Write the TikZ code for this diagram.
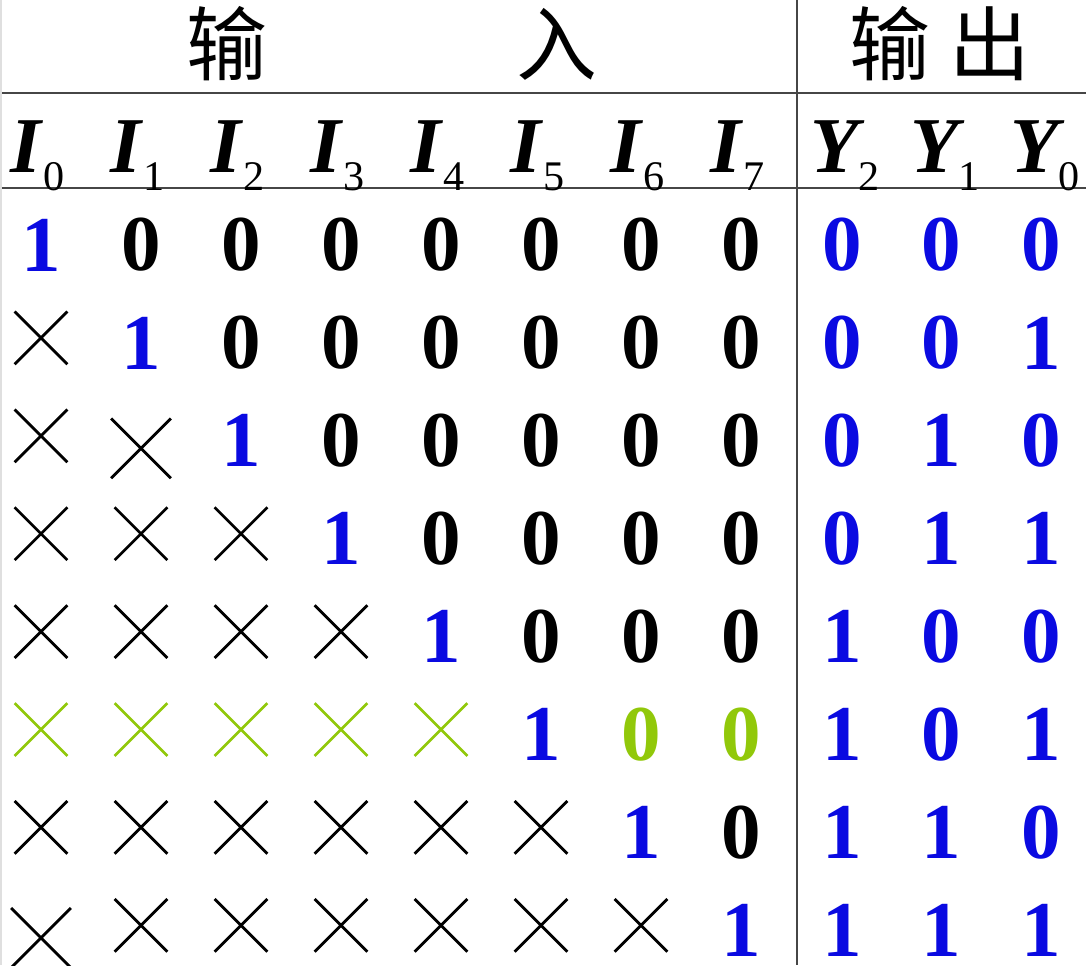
\documentclass[tikz,border=0pt]{standalone}
\usepackage{fontspec}
\setmainfont{Liberation Serif}
\newfontfamily\cjk{Noto Sans CJK SC}
\usetikzlibrary{shapes.misc}

\definecolor{tblue}{RGB}{10,10,225}
\definecolor{tgreen}{RGB}{145,200,10}
\definecolor{rulegray}{RGB}{70,70,70}

\newcommand\hdrsym[3][0cm]{\textbf{\textit{#2}}\hspace{#1}\raisebox{-0.36cm}{\fontsize{24}{26}\selectfont #3}}

\begin{document}
\begin{tikzpicture}[x=0.02cm, y=-0.02cm,
    rule/.style={draw=rulegray, line width=0.05cm},
    hdr/.style={inner sep=0pt, font=\cjk\fontsize{46}{48}\selectfont},
    sym/.style={anchor=base west, inner sep=0pt, font=\fontsize{45}{48}\selectfont},
    digit/.style={inner sep=0pt, font=\fontsize{45}{48}\selectfont\bfseries},
    xmark/.style={cross out, draw, line width=0.055cm, minimum size=1cm, inner sep=0pt, yshift=0.1cm},
    cell0/.style={digit, node contents={0}},
    cell1/.style={digit, text=tblue, node contents={1}},
    cellG/.style={digit, text=tgreen, node contents={0}},
    cellX/.style={xmark, node contents={}},
    cellZ/.style={xmark, draw=tgreen, node contents={}},
    cellB/.style={xmark, minimum size=1.14cm, yshift=-0.25cm, node contents={}}]

        \useasboundingbox (0,0) rectangle (1086,965);

        % table rules
        \draw[rule] (0,93) -- (1086,93);
        \draw[rule] (0,188) -- (1086,188);
        \draw[rule, line width=0.045cm] (797,0) -- (797,965);
        \draw[gray!25, line width=0.03cm] (1,0) -- (1,965);

        % group headers
        \node[hdr] (inhdr) at (392,44) {输\hspace{4.98cm}入};
        \node[hdr] (outhdr) at (940,44) {输\hspace{0.38cm}出};

        % column headers
        \foreach \c in {0,...,7}
            \node[sym] (h\c) at ({10+100*\c},172) {\hdrsym{I}{\c}};
        \foreach \k [count=\c from 0] in {2,1,0}
            \node[sym] (hy\k) at ({810+100*\c},172) {\hdrsym[-0.13cm]{Y}{\k}};

        % rows
        \foreach \r/\ins/\outs in {
                1/{1,0,0,0,0,0,0,0}/{0,0,0},
                2/{X,1,0,0,0,0,0,0}/{0,0,1},
                3/{X,B,1,0,0,0,0,0}/{0,1,0},
                4/{X,X,X,1,0,0,0,0}/{0,1,1},
                5/{X,X,X,X,1,0,0,0}/{1,0,0},
                6/{Z,Z,Z,Z,Z,1,G,G}/{1,0,1},
                7/{X,X,X,X,X,X,1,0}/{1,1,0},
                8/{B,X,X,X,X,X,X,1}/{1,1,1}} {
            \foreach \v [count=\c from 0] in \ins
                \node (in\r-\c) at ({41+100*\c},{245+97.9*(\r-1)}) [cell\v];
            \foreach \v [count=\c from 0] in \outs
                \node[digit, text=tblue] (out\r-\c) at ({842+99.5*\c},{245+97.9*(\r-1)}) {\v};
        }

    \end{tikzpicture}
\end{document}
